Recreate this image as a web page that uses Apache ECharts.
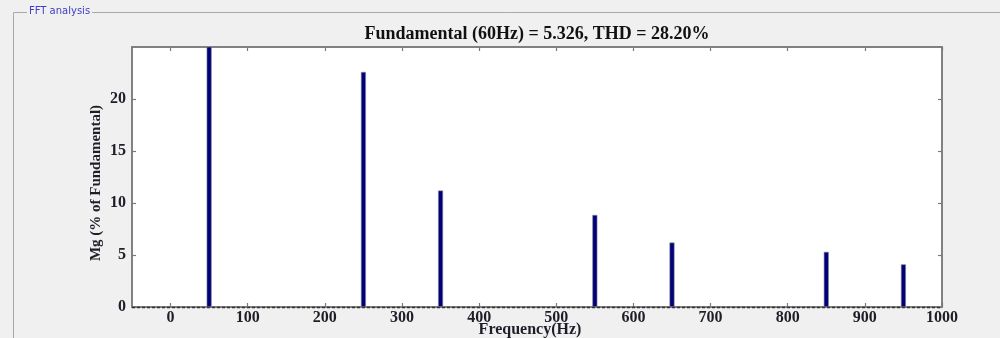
<!DOCTYPE html>
<html>
<head>
<meta charset="utf-8">
<script src="https://cdn.jsdelivr.net/npm/echarts@6/dist/echarts.min.js"></script>
<style>
html,body{margin:0;padding:0;background:#f0f0f0;}
#chart{width:1000px;height:338px;}
</style>
</head>
<body>
<div id="chart"></div>
<script>
const panelTitle = 'FFT analysis';
const chartTitle = 'Fundamental (60Hz) = 5.326, THD = 28.20%';
const xAxisName = 'Frequency(Hz)';
const yAxisName = 'Mg (% of Fundamental)';
const frequencies = [50, 250, 350, 550, 650, 850, 950];
const magnitudes = [100, 22.6, 11.2, 8.85, 6.2, 5.3, 4.1];
const xTicks = [0, 100, 200, 300, 400, 500, 600, 700, 800, 900, 1000];
const yTicks = [0, 5, 10, 15, 20];

const chart = echarts.init(document.getElementById('chart'), null, {renderer: 'canvas'});
const labelFont = {fontFamily: 'Liberation Serif', fontWeight: 'bold', fontSize: 16, color: '#1e1e28'};
const axisLine = {show: true, onZero: false, lineStyle: {color: '#7a7a7a', width: 1.5}};
const tickStyle = {lineStyle: {color: '#7a7a7a', width: 1.2}};
const plain = v => String(v);

chart.setOption({
  backgroundColor: '#f0f0f0',
  animation: false,
  title: {
    text: chartTitle,
    left: 532, textAlign: 'center', top: 20,
    textStyle: {fontFamily: 'Liberation Serif', fontWeight: 'bold', fontSize: 18, color: '#111'}
  },
  graphic: [
    {type: 'line', shape: {x1: 13.5, y1: 12.5, x2: 1000, y2: 12.5}, style: {stroke: '#a8a8a8', lineWidth: 1}, silent: true},
    {type: 'line', shape: {x1: 13.5, y1: 12.5, x2: 13.5, y2: 338}, style: {stroke: '#a8a8a8', lineWidth: 1}, silent: true},
    {type: 'text', left: 27, top: 6, style: {text: panelTitle, fontFamily: 'DejaVu Sans', fontSize: 10, fill: '#3c3cc8', backgroundColor: '#f0f0f0', padding: [0, 2, 0, 2]}, silent: true}
  ],
  grid: {left: 132, right: 58, top: 47, bottom: 31, outerBoundsMode: 'none', containLabel: false, show: true, backgroundColor: '#ffffff', borderColor: '#7a7a7a', borderWidth: 1.5},
  xAxis: [
    {
      type: 'value', min: -50, max: 1000, position: 'bottom',
      name: xAxisName, nameLocation: 'middle', nameGap: 15, nameMoveOverlap: false,
      nameTextStyle: Object.assign({}, labelFont, {fontSize: 16, verticalAlign: 'top', padding: [0, 14, 0, 0]}),
      axisLine: axisLine,
      axisTick: Object.assign({show: true, inside: true, length: 4, customValues: xTicks}, tickStyle),
      axisLabel: Object.assign({margin: 3, customValues: xTicks, formatter: plain}, labelFont),
      splitLine: {show: false}
    },
    {
      type: 'value', min: -50, max: 1000, position: 'top',
      axisLine: axisLine,
      axisTick: Object.assign({show: true, inside: true, length: 4, customValues: xTicks}, tickStyle),
      axisLabel: {show: false},
      splitLine: {show: false}
    }
  ],
  yAxis: [
    {
      type: 'value', min: 0, max: 25, position: 'left',
      name: yAxisName, nameLocation: 'middle', nameGap: 28, nameRotate: 90, nameMoveOverlap: false,
      nameTextStyle: Object.assign({}, labelFont, {fontSize: 15, padding: [0, 12, 0, 0]}),
      axisLine: axisLine,
      axisTick: Object.assign({show: true, inside: true, length: 4, customValues: yTicks}, tickStyle),
      axisLabel: Object.assign({margin: 6, customValues: yTicks, formatter: plain}, labelFont),
      splitLine: {show: false}
    },
    {
      type: 'value', min: 0, max: 25, position: 'right',
      axisLine: axisLine,
      axisTick: Object.assign({show: true, inside: true, length: 4, customValues: yTicks}, tickStyle),
      axisLabel: {show: false},
      splitLine: {show: false}
    }
  ],
  series: [{
    type: 'bar',
    xAxisIndex: 0, yAxisIndex: 0,
    clip: true,
    barWidth: 5,
    data: frequencies.map((f, i) => [f, magnitudes[i]]),
    itemStyle: {color: '#000078', borderColor: '#8a8a9a', borderWidth: 0.6},
    markLine: {
      silent: true, symbol: 'none', label: {show: false},
      lineStyle: {color: '#333', width: 1.4, type: [3, 2]},
      data: [{yAxis: 0}]
    }
  }]
});
</script>
</body>
</html>
